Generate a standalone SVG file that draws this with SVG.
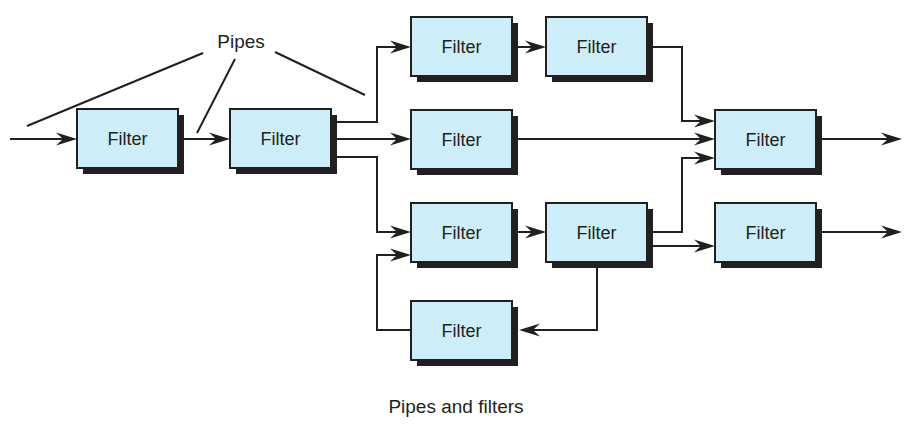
<svg xmlns="http://www.w3.org/2000/svg" width="909" height="430" viewBox="0 0 909 430">
<style>
.face{fill:#cdeef9;stroke:#231f20;stroke-width:2}
.shadow{fill:#231f20}
.lbl{font-family:"Liberation Sans",Arial,sans-serif;font-size:18px;fill:#231f20;text-anchor:middle}
.cap{font-family:"Liberation Sans",Arial,sans-serif;font-size:19px;fill:#231f20;text-anchor:middle}
.pipe{fill:none;stroke:#231f20;stroke-width:2}
.ann{fill:none;stroke:#231f20;stroke-width:2}
</style>
<defs>
<marker id="arr" markerUnits="userSpaceOnUse" viewBox="-22 -8 24 16" markerWidth="24" markerHeight="16" refX="-8" refY="0" orient="auto">
<path d="M0,0 L-21,-6.5 L-14,0 L-21,6.5 Z" fill="#231f20"/>
</marker>
<symbol id="box" overflow="visible">
<rect class="shadow" x="6" y="6" width="101" height="59"/>
<rect class="face" x="0" y="0" width="101" height="59"/>
</symbol>
</defs>
<rect width="909" height="430" fill="#ffffff"/>
<g id="connectors">
<path class="pipe" d="M10,139 H69" marker-end="url(#arr)"/>
<path class="pipe" d="M178,139 H222" marker-end="url(#arr)"/>
<path class="pipe" d="M331,122 H377 V47 H403" marker-end="url(#arr)"/>
<path class="pipe" d="M331,139 H403" marker-end="url(#arr)"/>
<path class="pipe" d="M331,157 H377 V232 H403" marker-end="url(#arr)"/>
<path class="pipe" d="M513,47 H538" marker-end="url(#arr)"/>
<path class="pipe" d="M647,47 H682 V121 H707" marker-end="url(#arr)"/>
<path class="pipe" d="M513,139 H707" marker-end="url(#arr)"/>
<path class="pipe" d="M647,232 H682 V158 H707" marker-end="url(#arr)"/>
<path class="pipe" d="M647,246 H707" marker-end="url(#arr)"/>
<path class="pipe" d="M817,139 H894" marker-end="url(#arr)"/>
<path class="pipe" d="M816,232 H894" marker-end="url(#arr)"/>
<path class="pipe" d="M513,232 H538" marker-end="url(#arr)"/>
<path class="pipe" d="M597,261 V330 H527" marker-end="url(#arr)"/>
<path class="pipe" d="M411,330 H377 V255 H403" marker-end="url(#arr)"/>
</g>
<g id="node-f1"><use href="#box" x="77" y="109"/><text class="lbl" x="127.5" y="145">Filter</text></g>
<g id="node-f2"><use href="#box" x="230" y="109"/><text class="lbl" x="280.5" y="145">Filter</text></g>
<g id="node-f3"><use href="#box" x="411" y="17"/><text class="lbl" x="461.5" y="53">Filter</text></g>
<g id="node-f4"><use href="#box" x="546" y="17"/><text class="lbl" x="596.5" y="53">Filter</text></g>
<g id="node-f5"><use href="#box" x="411" y="110"/><text class="lbl" x="461.5" y="146">Filter</text></g>
<g id="node-f6"><use href="#box" x="715" y="110"/><text class="lbl" x="765.5" y="146">Filter</text></g>
<g id="node-f7"><use href="#box" x="411" y="203"/><text class="lbl" x="461.5" y="239">Filter</text></g>
<g id="node-f8"><use href="#box" x="546" y="203"/><text class="lbl" x="596.5" y="239">Filter</text></g>
<g id="node-f9"><use href="#box" x="411" y="301"/><text class="lbl" x="461.5" y="337">Filter</text></g>
<g id="node-f10"><use href="#box" x="715" y="203"/><text class="lbl" x="765.5" y="239">Filter</text></g>
<g id="pipes-label">
<text class="cap" x="241" y="48">Pipes</text>
<line class="ann" x1="27" y1="126" x2="203" y2="53"/>
<line class="ann" x1="197" y1="133" x2="235" y2="59"/>
<line class="ann" x1="275" y1="52" x2="365" y2="95"/>
</g>
<text class="cap" x="456" y="413">Pipes and filters</text>
</svg>
